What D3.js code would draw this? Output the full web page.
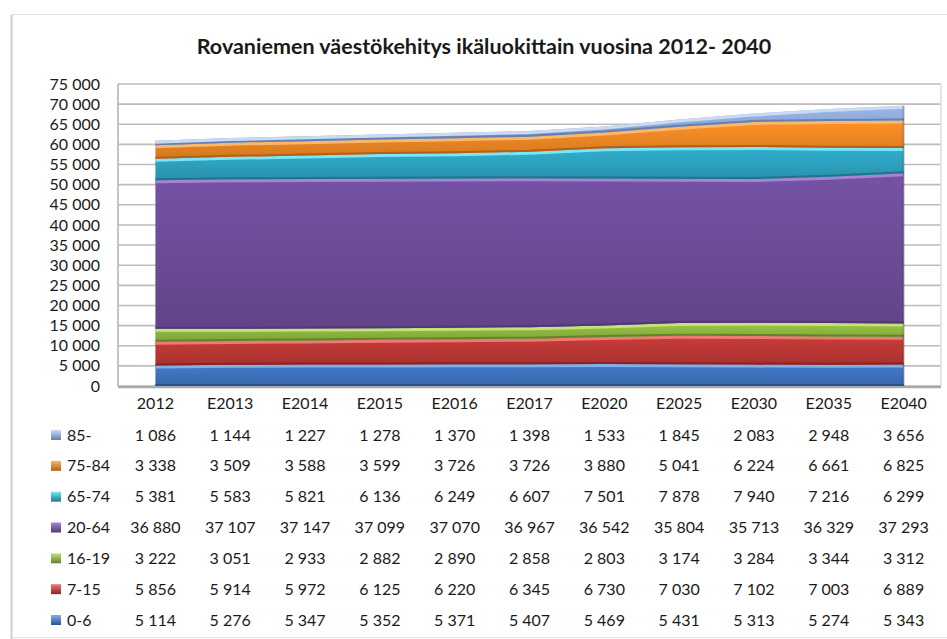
<!DOCTYPE html>
<html>
<head>
<meta charset="utf-8">
<script src="https://cdn.jsdelivr.net/npm/d3@7"></script>
<style>
  body { margin: 0; background: #fff; }
  svg { display: block; font-family: Lato, "Open Sans", sans-serif; }
</style>
</head>
<body>
<div id="chart"></div>
<script>
// categories (years) and age groups
const years = ["2012", "E2013", "E2014", "E2015", "E2016", "E2017", "E2020", "E2025", "E2030", "E2035", "E2040"];
const groups = ["0-6", "7-15", "16-19", "20-64", "65-74", "75-84", "85-"];

// series values, one list per age group
const age0_6 = [5114, 5276, 5347, 5352, 5371, 5407, 5469, 5431, 5313, 5274, 5343];
const age7_15 = [5856, 5914, 5972, 6125, 6220, 6345, 6730, 7030, 7102, 7003, 6889];
const age16_19 = [3222, 3051, 2933, 2882, 2890, 2858, 2803, 3174, 3284, 3344, 3312];
const age20_64 = [36880, 37107, 37147, 37099, 37070, 36967, 36542, 35804, 35713, 36329, 37293];
const age65_74 = [5381, 5583, 5821, 6136, 6249, 6607, 7501, 7878, 7940, 7216, 6299];
const age75_84 = [3338, 3509, 3588, 3599, 3726, 3726, 3880, 5041, 6224, 6661, 6825];
const age85 = [1086, 1144, 1227, 1278, 1370, 1398, 1533, 1845, 2083, 2948, 3656];

const yTicks = d3.range(0, 75001, 5000);

const seriesValues = [age0_6, age7_15, age16_19, age20_64, age65_74, age75_84, age85];

// colors: [top highlight, base, bottom shade]
const colors = {
  "0-6": ["#7fb0ec", "#3f73c0", "#2a5290"],
  "7-15": ["#ee7a76", "#bd3835", "#8a2321"],
  "16-19": ["#c4e27a", "#8fb740", "#63822a"],
  "20-64": ["#a783d6", "#6e4d9a", "#523878"],
  "65-74": ["#7ae6fa", "#2ea4c2", "#1d748c"],
  "75-84": ["#fbb86a", "#ee8824", "#b36018"],
  "85-": ["#c8daf4", "#8faad8", "#6681b1"],
};

const W = 947, H = 639;
const margin = { left: 118, right: 6, top: 84 };
const plotW = 941 - margin.left;
const plotBottom = 386;

const rows = years.map((yr, i) => {
  const r = { year: yr };
  groups.forEach((g, j) => (r[g] = seriesValues[j][i]));
  return r;
});

const svg = d3.select("#chart").append("svg").attr("width", W).attr("height", H);
const defs = svg.append("defs");

// outer chart frame
svg.append("rect")
  .attr("x", 11.5).attr("y", 14.5).attr("width", 960).attr("height", 623)
  .attr("fill", "none").attr("stroke", "#e2e2e2").attr("stroke-width", 1);
svg.append("line")
  .attr("x1", 11.5).attr("x2", 11.5).attr("y1", 15).attr("y2", 639)
  .attr("stroke", "#cfcfcf").attr("stroke-width", 2);

// title
svg.append("text")
  .attr("x", 484).attr("y", 54)
  .attr("text-anchor", "middle")
  .attr("font-weight", "bold")
  .attr("font-size", 21.5)
  .attr("fill", "#1a1a1a")
  .text("Rovaniemen väestökehitys ikäluokittain vuosina 2012- 2040");

const x = d3.scaleBand().domain(years).range([margin.left, margin.left + plotW]);
const xc = (d) => x(d) + x.bandwidth() / 2;
const y = d3.scaleLinear().domain([0, 75000]).range([plotBottom, margin.top]);

// gridlines
svg.append("g")
  .selectAll("line")
  .data(yTicks)
  .join("line")
  .attr("x1", margin.left).attr("x2", margin.left + plotW)
  .attr("y1", (d) => y(d)).attr("y2", (d) => y(d))
  .attr("stroke", "#bdbdbd").attr("stroke-width", 1.6);

// left wall + floor
svg.append("line")
  .attr("x1", margin.left).attr("x2", margin.left)
  .attr("y1", y(75000)).attr("y2", plotBottom)
  .attr("stroke", "#b5b5b5").attr("stroke-width", 1.6);
svg.append("line")
  .attr("x1", margin.left).attr("x2", margin.left + plotW)
  .attr("y1", plotBottom + 1).attr("y2", plotBottom + 1)
  .attr("stroke", "#aaaaaa").attr("stroke-width", 2.5);
svg.append("line")
  .attr("x1", margin.left + plotW).attr("x2", margin.left + plotW)
  .attr("y1", y(75000)).attr("y2", plotBottom)
  .attr("stroke", "#dedede").attr("stroke-width", 1.5);

// y axis labels
const fmt = (v) => d3.format(",")(v).replace(/,/g, "\u00a0");
svg.append("g")
  .selectAll("text")
  .data(yTicks)
  .join("text")
  .attr("x", 100).attr("y", (d) => y(d))
  .attr("dy", "0.35em")
  .attr("text-anchor", "end")
  .attr("font-size", 16)
  .attr("fill", "#1a1a1a")
  .text((d) => fmt(d));

// stacked areas
const stack = d3.stack().keys(groups);
const layers = stack(rows);

groups.forEach((g) => {
  const c = colors[g];
  const grad = defs.append("linearGradient")
    .attr("id", "grad-" + groups.indexOf(g))
    .attr("x1", 0).attr("x2", 0).attr("y1", 0).attr("y2", 1);
  grad.append("stop").attr("offset", "0%").attr("stop-color", d3.color(c[1]).brighter(0.2));
  grad.append("stop").attr("offset", "100%").attr("stop-color", d3.color(c[1]).darker(0.35));
});

const area = d3.area()
  .x((d) => xc(d.data.year))
  .y0((d) => y(d[0]))
  .y1((d) => y(d[1]));
const topLine = d3.line()
  .x((d) => xc(d.data.year))
  .y((d) => y(d[1]) + 1.5);
const bottomLine = d3.line()
  .x((d) => xc(d.data.year))
  .y((d) => y(d[0]) - 1);

const gAreas = svg.append("g");
layers.forEach((layer, i) => {
  const c = colors[layer.key];
  gAreas.append("path")
    .datum(layer)
    .attr("d", area)
    .attr("fill", `url(#grad-${i})`);
  gAreas.append("path")
    .datum(layer)
    .attr("d", bottomLine)
    .attr("fill", "none")
    .attr("stroke", c[2])
    .attr("stroke-width", 2);
  gAreas.append("path")
    .datum(layer)
    .attr("d", topLine)
    .attr("fill", "none")
    .attr("stroke", c[0])
    .attr("stroke-width", 3);
});
// right edge shading of the 3D block
gAreas.append("line")
  .attr("x1", xc(years[years.length - 1]))
  .attr("x2", xc(years[years.length - 1]))
  .attr("y1", y(d3.sum(seriesValues, (s) => s[s.length - 1])))
  .attr("y2", plotBottom)
  .attr("stroke", "rgba(0,0,0,0.25)").attr("stroke-width", 2);

// x labels (table header)
svg.append("g")
  .selectAll("text")
  .data(years)
  .join("text")
  .attr("x", xc).attr("y", 403)
  .attr("dy", "0.35em")
  .attr("text-anchor", "middle")
  .attr("font-size", 16)
  .attr("fill", "#1a1a1a")
  .text((d) => d);

// data table
const tableGroups = groups.slice().reverse();
const rowY = d3.scalePoint().domain(tableGroups).range([435, 620]);

const tbl = svg.append("g");
tableGroups.forEach((g) => {
  const idx = groups.indexOf(g);
  const c = colors[g];
  const ry = rowY(g);
  const mg = defs.append("linearGradient")
    .attr("id", "mk-" + idx)
    .attr("x1", 0).attr("x2", 0).attr("y1", 0).attr("y2", 1);
  mg.append("stop").attr("offset", "0%").attr("stop-color", c[0]);
  mg.append("stop").attr("offset", "100%").attr("stop-color", c[2]);
  tbl.append("rect")
    .attr("x", 51).attr("y", ry - 5).attr("width", 10).attr("height", 10)
    .attr("fill", `url(#mk-${idx})`);
  tbl.append("text")
    .attr("x", 67).attr("y", ry).attr("dy", "0.35em")
    .attr("font-size", 16).attr("fill", "#1a1a1a")
    .text(g);
  tbl.append("g")
    .selectAll("text")
    .data(seriesValues[idx])
    .join("text")
    .attr("x", (d, i) => xc(years[i]))
    .attr("y", ry).attr("dy", "0.35em")
    .attr("text-anchor", "middle")
    .attr("font-size", 16).attr("fill", "#1a1a1a")
    .text((d) => fmt(d));
});
</script>
</body>
</html>
